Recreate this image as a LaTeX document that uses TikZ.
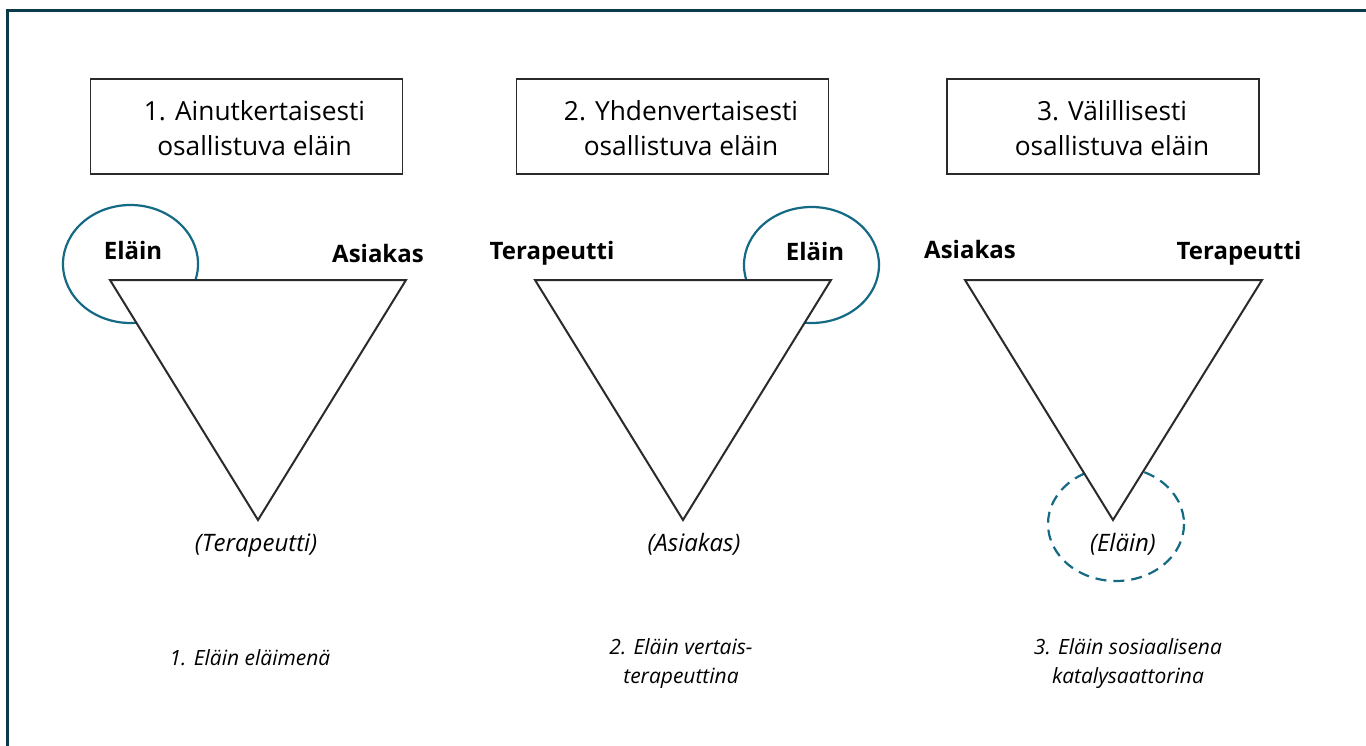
\documentclass[tikz,border=0pt]{standalone}
\usepackage{fontspec}
\setmainfont{Open Sans}
\definecolor{framecol}{HTML}{0D3A48}
\definecolor{teal}{HTML}{146A85}
\definecolor{linecol}{HTML}{2A2A2A}
\begin{document}
\begin{tikzpicture}[x=1pt,y=-1pt,
  titlebox/.style={draw=linecol,line width=1.4pt,fill=white,minimum width=312pt,minimum height=95pt,inner sep=0pt},
  titleline/.style={font=\fontsize{26.3}{35}\selectfont,anchor=base,inner sep=0pt},
  tri/.style={draw=linecol,line width=2pt,fill=white,line join=miter},
  blob/.style={draw=teal,line width=2.2pt},
  dblob/.style={draw=teal,line width=2.2pt,dash pattern=on 11pt off 7pt},
  role/.style={font=\fontsize{24}{28}\selectfont\bfseries,anchor=base,inner sep=0pt},
  hidden/.style={font=\fontsize{24}{28}\selectfont\itshape,anchor=base,inner sep=0pt},
  caption/.style={font=\fontsize{21}{29}\selectfont\itshape,align=center,anchor=north,inner sep=0pt}]
\useasboundingbox (0,0) rectangle (1366,745);
\fill[white] (0,0) rectangle (1366,745);
\draw[framecol,line width=3pt] (7,760) -- (7,10) -- (1380,10);

% title boxes
\node[titlebox] (b1) at (246.5,126.5) {};
\node[titlebox] (b2) at (672.5,126.5) {};
\node[titlebox] (b3) at (1103,126.5) {};
\node[titleline] (b1l1) at (254.5,120) {1. Ainutkertaisesti};
\node[titleline] (b1l2) at (254.5,155) {osallistuva eläin};
\node[titleline] (b2l1) at (681,120) {2. Yhdenvertaisesti};
\node[titleline] (b2l2) at (681,155) {osallistuva eläin};
\node[titleline] (b3l1) at (1112,120) {3. Välillisesti};
\node[titleline] (b3l2) at (1112,155) {osallistuva eläin};

% ellipses (behind triangles)
\draw[blob] (130.5,264) ellipse [x radius=67.5, y radius=59];
\draw[blob] (811.5,265) ellipse [x radius=67.5, y radius=58];
\draw[dblob] (1116,524) ellipse [x radius=68, y radius=57];

% triangles
\coordinate (t1a) at (110,280); \coordinate (t1b) at (406,280); \coordinate (t1c) at (258,520);
\coordinate (t2a) at (535,280); \coordinate (t2b) at (831,280); \coordinate (t2c) at (683,520);
\coordinate (t3a) at (965,280); \coordinate (t3b) at (1262,280); \coordinate (t3c) at (1113,520);
\draw[tri] (t1a) -- (t1b) -- (t1c) -- cycle;
\draw[tri] (t2a) -- (t2b) -- (t2c) -- cycle;
\draw[tri] (t3a) -- (t3b) -- (t3c) -- cycle;

% role labels
\node[role] (l1a) at (133,259.5) {Eläin};
\node[role] (l1b) at (378,262.5) {Asiakas};
\node[role] (l2a) at (552,259.5) {Terapeutti};
\node[role] (l2b) at (815,260.5) {Eläin};
\node[role] (l3a) at (970,258.5) {Asiakas};
\node[role] (l3b) at (1239,259.5) {Terapeutti};

\node[hidden] (h1) at (256,551) {(Terapeutti)};
\node[hidden] (h2) at (694,551) {(Asiakas)};
\node[hidden] (h3) at (1123,551) {(Eläin)};

% captions
\node[caption] (c1) at (250,649) {1. Eläin eläimenä};
\node[caption] (c2) at (681,638) {2. Eläin vertais-\\terapeuttina};
\node[caption] (c3) at (1128,638) {3. Eläin sosiaalisena\\katalysaattorina};
\end{tikzpicture}
\end{document}
